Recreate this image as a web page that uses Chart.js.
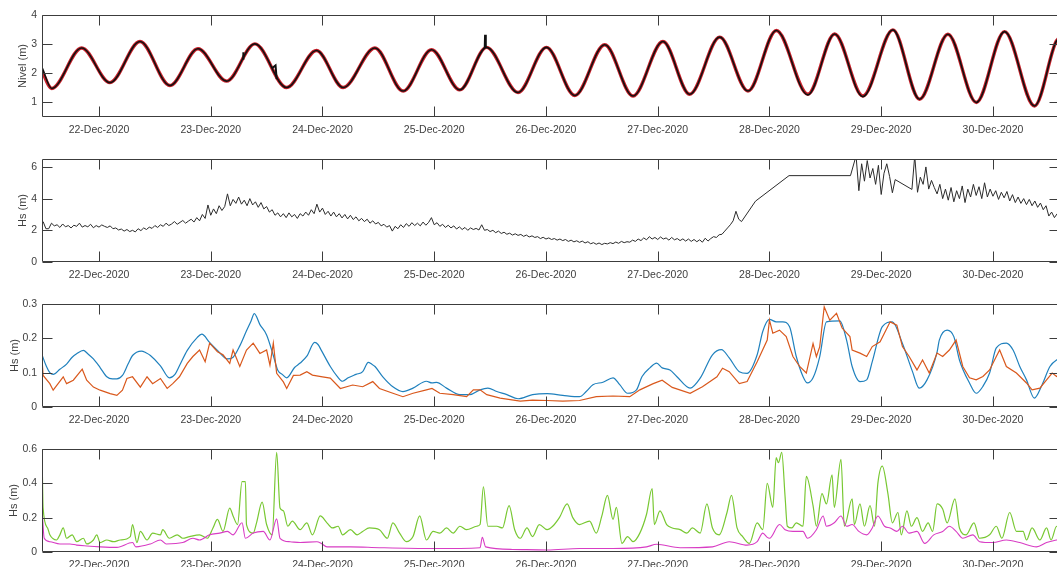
<!DOCTYPE html>
<html lang="es">
<head>
<meta charset="UTF-8">
<title>Nivel y Hs</title>
<style>
  html, body { margin: 0; padding: 0; background: #fff; overflow: hidden; }
  canvas { position: absolute; left: 0; }
</style>
</head>
<body>
<canvas id="p1" width="1062" height="145" style="top:0px"></canvas>
<canvas id="p2" width="1062" height="145" style="top:145px"></canvas>
<canvas id="p3" width="1062" height="145" style="top:290px"></canvas>
<canvas id="p4" width="1062" height="145" style="top:435px"></canvas>
<script src="https://cdn.jsdelivr.net/npm/chart.js"></script>
<script>
// time is in days of December 2020 (22.5 = 22-Dec 12:00)
const dayTicks = [22, 23, 24, 25, 26, 27, 28, 29, 30];
const xMin = 21.49, xMax = 30.6;

// panel 1: tide level, predicted (red) and observed (black)
const tideT = [21.49, 21.577, 21.845, 22.098, 22.367, 22.635, 22.886, 23.142, 23.395, 23.679, 23.947, 24.185,
  24.469, 24.722, 24.976, 25.229, 25.468, 25.750, 26.004, 26.258, 26.526, 26.779, 27.047, 27.286, 27.555,
  27.808, 28.062, 28.344, 28.583, 28.836, 29.105, 29.343, 29.597, 29.851, 30.104, 30.372, 30.56, 30.60];
const tidePred = [2.07, 1.48, 2.87, 1.68, 3.09, 1.58, 2.84, 1.73, 3.01, 1.51, 2.78, 1.51,
  2.87, 1.39, 2.81, 1.43, 2.89, 1.34, 2.89, 1.24, 2.98, 1.22, 3.09, 1.28, 3.24,
  1.39, 3.47, 1.28, 3.35, 1.22, 3.49, 1.11, 3.34, 1.00, 3.43, 0.88, 3.05, 3.25];
const obsT = [21.49, 21.577, 21.845, 22.098, 22.367, 22.635, 22.886, 23.142, 23.395, 23.679, 23.947, 24.185,
  24.469, 24.722, 24.976, 25.229, 25.468, 25.750, 26.004, 26.258, 26.526, 26.779, 27.047, 27.286, 27.555,
  27.808, 28.062, 28.344, 28.583, 28.836, 29.105, 29.343, 29.597, 29.851, 30.104, 30.372, 30.56, 30.60];
const obsNivel = [2.20, 1.48, 2.87, 1.68, 3.09, 1.58, 2.84, 1.73, 3.01, 1.51, 2.78, 1.51,
  2.87, 1.39, 2.81, 1.43, 2.89, 1.34, 2.89, 1.24, 2.98, 1.22, 3.09, 1.28, 3.24,
  1.39, 3.47, 1.26, 3.35, 1.20, 3.49, 1.11, 3.34, 1.00, 3.43, 0.88, 3.05, 3.25];
// short jumps in the observed record (null separates them)
const jumpT = [23.29, 23.292, 23.35, 23.55, 23.58, 23.59, 23.70, 25.452, 25.455, 25.46, 25.463];
const jumpNivel = [2.50, 2.72, null, 2.18, 2.27, 1.80, null, 2.86, 3.32, 3.30, 2.89];

// panel 2: offshore Hs, one value every 0.025 day from 21.5 (null = no record)
const hsStart = 21.5, hsStep = 0.025;
const hsBuoy = [
  2.55, 2.10, 2.10, 2.45, 2.28, 2.35, 2.18, 2.40, 2.22, 2.30, 2.15, 2.32, 2.25, 2.45, 2.20, 2.30, 2.22, 2.38, 2.16, 2.30,
  2.20, 2.34, 2.25, 2.18, 2.28, 2.10, 2.15, 2.02, 2.08, 1.95, 2.05, 1.92, 2.00, 1.90, 2.10, 1.98, 2.15, 2.05, 2.20, 2.12,
  2.30, 2.18, 2.35, 2.25, 2.45, 2.30, 2.40, 2.55, 2.38, 2.50, 2.62, 2.45, 2.58, 2.70, 2.52, 2.80, 2.60, 3.00, 2.75, 3.60,
  2.95, 3.35, 3.05, 3.55, 3.25, 3.50, 4.30, 3.55, 3.95, 3.70, 4.10, 3.65, 3.90, 3.55, 4.00, 3.60, 3.80, 3.45, 3.75, 3.35,
  3.50, 3.15, 3.30, 2.95, 3.10, 2.85, 3.05, 2.80, 3.10, 2.85, 3.00, 2.75, 3.05, 2.90, 3.15, 2.95, 3.30, 3.05, 3.65, 3.15,
  3.40, 3.00, 3.20, 2.90, 3.15, 2.85, 3.05, 2.78, 3.00, 2.72, 2.95, 2.68, 2.85, 2.60, 2.75, 2.55, 2.70, 2.45, 2.60, 2.40,
  2.50, 2.28, 2.38, 2.20, 2.30, 1.95, 2.25, 2.10, 2.35, 2.18, 2.42, 2.25, 2.48, 2.30, 2.45, 2.28, 2.52, 2.32, 2.50, 2.80,
  2.35, 2.48, 2.25, 2.38, 2.18, 2.32, 2.15, 2.28, 2.08, 2.22, 2.05, 2.18, 2.00, 2.15, 2.05, 2.12, 2.02, 2.35, 2.00, 2.05,
  1.92, 2.00, 1.85, 1.95, 1.80, 1.88, 1.75, 1.82, 1.70, 1.78, 1.68, 1.74, 1.62, 1.70, 1.58, 1.65, 1.55, 1.60, 1.48, 1.56,
  1.45, 1.52, 1.42, 1.48, 1.38, 1.45, 1.35, 1.42, 1.30, 1.38, 1.27, 1.34, 1.24, 1.32, 1.20, 1.28, 1.15, 1.22, 1.12, 1.20,
  1.10, 1.18, 1.14, 1.22, 1.16, 1.26, 1.18, 1.30, 1.22, 1.28, 1.25, 1.38, 1.30, 1.45, 1.35, 1.52, 1.40, 1.60, 1.45, 1.55,
  1.42, 1.58, 1.45, 1.52, 1.38, 1.55, 1.40, 1.48, 1.35, 1.46, 1.32, 1.45, 1.30, 1.42, 1.28, 1.40, 1.25, 1.50, 1.32, 1.48,
  1.60, 1.55, 1.72, 1.75, 1.95, 2.15, 2.35, 2.60, 3.20, 2.70, 2.55, null, null, null, null, 3.84, null, null, null, null,
  null, null, null, null, null, null, null, 5.45, null, null, null, null, null, null, null, null, null, null, null, null,
  null, null, null, null, null, null, null, null, null, 5.45, null, 6.70, 4.50, 6.20, 5.10, 6.40, 5.30, 5.90, 4.90, 6.10,
  4.26, 5.60, 6.20, 5.40, 4.37, 5.20, null, null, null, null, null, 4.58, 6.70, 4.40, 5.35, 4.90, 6.00, 4.60, 5.15, 4.70,
  4.30, 4.90, 4.00, 4.60, 3.90, 4.70, 3.80, 4.50, 4.00, 4.80, 3.75, 4.60, 4.10, 4.90, 4.20, 4.75, 4.00, 5.00, 4.10, 4.60,
  4.15, 4.50, 3.95, 4.40, 4.05, 4.45, 3.85, 4.25, 3.75, 4.10, 3.70, 4.00, 3.62, 3.95, 3.55, 3.85, 3.45, 3.72, 3.30, 3.55,
  2.90, 3.15, 2.80, 3.05, 3.00];

// panel 3: nearshore Hs, two points (blue and orange)
const blueT = [21.49, 21.53, 21.56, 21.59, 21.65, 21.71, 21.76, 21.80, 21.86, 21.90, 21.95, 22.01, 22.07, 22.12,
  22.16, 22.21, 22.26, 22.30, 22.38, 22.42, 22.46, 22.55, 22.63, 22.68, 22.72, 22.79, 22.88, 22.92, 22.99,
  23.06, 23.15, 23.20, 23.26, 23.32, 23.36, 23.39, 23.44, 23.50, 23.56, 23.60, 23.64, 23.68, 23.75, 23.80,
  23.86, 23.93, 23.96, 23.99, 24.07, 24.13, 24.18, 24.23, 24.30, 24.36, 24.41, 24.44, 24.47, 24.54, 24.63,
  24.72, 24.81, 24.93, 24.98, 25.02, 25.11, 25.23, 25.32, 25.41, 25.48, 25.56, 25.65, 25.75, 25.88, 26.01,
  26.15, 26.30, 26.36, 26.42, 26.51, 26.60, 26.66, 26.73, 26.81, 26.86, 26.93, 26.99, 27.04, 27.11, 27.17,
  27.29, 27.38, 27.49, 27.57, 27.64, 27.73, 27.80, 27.89, 27.94, 28.00, 28.06, 28.12, 28.18, 28.24, 28.30,
  28.34, 28.39, 28.45, 28.51, 28.63, 28.69, 28.74, 28.81, 28.87, 28.92, 29.01, 29.10, 29.19, 29.28, 29.34,
  29.41, 29.50, 29.52, 29.59, 29.65, 29.70, 29.79, 29.85, 29.91, 29.97, 30.03, 30.12, 30.18, 30.24, 30.30,
  30.37, 30.44, 30.51, 30.57, 30.60];
const hsBlue = [0.152, 0.118, 0.100, 0.095, 0.110, 0.125, 0.145, 0.155, 0.165, 0.155, 0.140, 0.115, 0.088, 0.082,
  0.082, 0.092, 0.125, 0.150, 0.163, 0.158, 0.150, 0.120, 0.085, 0.095, 0.120, 0.165, 0.203, 0.212, 0.188,
  0.165, 0.140, 0.145, 0.178, 0.222, 0.250, 0.272, 0.240, 0.210, 0.150, 0.107, 0.095, 0.085, 0.115, 0.128,
  0.148, 0.188, 0.182, 0.165, 0.118, 0.090, 0.075, 0.085, 0.095, 0.103, 0.130, 0.125, 0.118, 0.088, 0.059,
  0.045, 0.055, 0.075, 0.070, 0.072, 0.055, 0.036, 0.036, 0.050, 0.055, 0.045, 0.036, 0.024, 0.036, 0.039,
  0.034, 0.030, 0.045, 0.065, 0.072, 0.085, 0.065, 0.040, 0.050, 0.089, 0.114, 0.128, 0.114, 0.108, 0.089,
  0.055, 0.084, 0.152, 0.167, 0.143, 0.103, 0.098, 0.152, 0.220, 0.255, 0.248, 0.248, 0.234, 0.147, 0.089,
  0.070, 0.085, 0.147, 0.248, 0.251, 0.195, 0.118, 0.074, 0.079, 0.132, 0.234, 0.248, 0.185, 0.103, 0.055,
  0.079, 0.160, 0.195, 0.224, 0.205, 0.137, 0.070, 0.040, 0.060, 0.099, 0.172, 0.186, 0.166, 0.118, 0.079,
  0.026, 0.065, 0.118, 0.137, 0.140];
const orangeT = [21.49, 21.50, 21.56, 21.59, 21.68, 21.71, 21.77, 21.85, 21.89, 21.95, 22.01, 22.10, 22.16, 22.21,
  22.25, 22.30, 22.37, 22.43, 22.48, 22.55, 22.61, 22.66, 22.72, 22.79, 22.84, 22.90, 22.95, 22.99, 23.06,
  23.11, 23.17, 23.20, 23.26, 23.32, 23.38, 23.44, 23.50, 23.53, 23.56, 23.59, 23.65, 23.68, 23.74, 23.80,
  23.86, 23.91, 24.00, 24.07, 24.16, 24.27, 24.36, 24.45, 24.51, 24.63, 24.72, 24.81, 24.93, 24.98, 25.05,
  25.17, 25.29, 25.35, 25.41, 25.47, 25.59, 25.77, 25.88, 26.01, 26.15, 26.30, 26.45, 26.60, 26.75, 26.84,
  26.96, 27.04, 27.13, 27.29, 27.40, 27.53, 27.58, 27.64, 27.73, 27.80, 27.89, 27.98, 28.00, 28.03, 28.09,
  28.15, 28.21, 28.27, 28.33, 28.39, 28.42, 28.45, 28.49, 28.54, 28.60, 28.65, 28.72, 28.74, 28.81, 28.87,
  28.92, 28.99, 29.08, 29.14, 29.19, 29.25, 29.32, 29.37, 29.43, 29.50, 29.55, 29.61, 29.67, 29.73, 29.79,
  29.85, 29.91, 29.97, 30.03, 30.06, 30.12, 30.21, 30.30, 30.35, 30.42, 30.48, 30.53, 30.57, 30.60];
const hsOrange = [0.140, 0.092, 0.068, 0.049, 0.088, 0.068, 0.078, 0.110, 0.078, 0.058, 0.049, 0.039, 0.034, 0.049,
  0.083, 0.088, 0.058, 0.088, 0.068, 0.083, 0.054, 0.068, 0.088, 0.127, 0.147, 0.166, 0.132, 0.186, 0.161,
  0.152, 0.127, 0.166, 0.118, 0.166, 0.186, 0.156, 0.166, 0.122, 0.186, 0.098, 0.073, 0.054, 0.092, 0.093,
  0.103, 0.093, 0.088, 0.084, 0.054, 0.064, 0.059, 0.074, 0.054, 0.040, 0.030, 0.040, 0.050, 0.054, 0.040,
  0.036, 0.030, 0.050, 0.050, 0.036, 0.026, 0.017, 0.020, 0.019, 0.017, 0.019, 0.030, 0.032, 0.030, 0.050,
  0.068, 0.078, 0.057, 0.040, 0.059, 0.088, 0.113, 0.103, 0.068, 0.074, 0.132, 0.195, 0.253, 0.215, 0.224,
  0.205, 0.147, 0.118, 0.099, 0.185, 0.147, 0.176, 0.292, 0.253, 0.273, 0.230, 0.205, 0.166, 0.157, 0.147,
  0.176, 0.190, 0.248, 0.238, 0.176, 0.147, 0.108, 0.137, 0.099, 0.157, 0.147, 0.166, 0.195, 0.118, 0.085,
  0.079, 0.089, 0.108, 0.147, 0.166, 0.118, 0.099, 0.070, 0.050, 0.055, 0.079, 0.099, 0.089, 0.095];

// panel 4: nearshore Hs, two more points (green and magenta)
const greenT = [21.49, 21.50, 21.54, 21.56, 21.62, 21.65, 21.68, 21.71, 21.76, 21.80, 21.86, 21.89, 21.95, 21.98,
  22.01, 22.07, 22.13, 22.19, 22.28, 22.30, 22.34, 22.37, 22.43, 22.48, 22.55, 22.57, 22.63, 22.70, 22.75,
  22.81, 22.90, 22.97, 23.02, 23.06, 23.11, 23.17, 23.20, 23.24, 23.28, 23.31, 23.32, 23.38, 23.41, 23.46,
  23.50, 23.55, 23.59, 23.62, 23.65, 23.69, 23.73, 23.80, 23.86, 23.91, 23.98, 24.04, 24.09, 24.14, 24.18,
  24.25, 24.31, 24.36, 24.42, 24.51, 24.58, 24.63, 24.69, 24.75, 24.81, 24.87, 24.93, 24.99, 25.05, 25.11,
  25.17, 25.23, 25.29, 25.38, 25.41, 25.44, 25.48, 25.56, 25.61, 25.67, 25.72, 25.77, 25.83, 25.88, 25.94,
  26.01, 26.06, 26.12, 26.19, 26.24, 26.30, 26.39, 26.45, 26.50, 26.55, 26.60, 26.63, 26.68, 26.73, 26.78,
  26.84, 26.90, 26.95, 26.97, 27.02, 27.08, 27.13, 27.20, 27.26, 27.31, 27.38, 27.44, 27.49, 27.55, 27.62,
  27.66, 27.71, 27.76, 27.82, 27.89, 27.94, 27.98, 28.03, 28.06, 28.08, 28.11, 28.14, 28.16, 28.20, 28.24,
  28.30, 28.33, 28.39, 28.42, 28.47, 28.51, 28.56, 28.58, 28.64, 28.67, 28.74, 28.76, 28.81, 28.85, 28.90,
  28.94, 28.97, 29.01, 29.06, 29.10, 29.15, 29.18, 29.23, 29.27, 29.32, 29.37, 29.42, 29.46, 29.50, 29.55,
  29.59, 29.66, 29.70, 29.76, 29.83, 29.88, 29.97, 30.03, 30.08, 30.15, 30.21, 30.27, 30.30, 30.35, 30.42,
  30.48, 30.52, 30.57, 30.60];
const hsGreen = [0.60, 0.256, 0.14, 0.10, 0.07, 0.10, 0.14, 0.08, 0.10, 0.06, 0.08, 0.047, 0.07, 0.10,
  0.055, 0.07, 0.06, 0.07, 0.09, 0.16, 0.055, 0.12, 0.07, 0.11, 0.10, 0.13, 0.08, 0.10, 0.08,
  0.09, 0.10, 0.08, 0.14, 0.19, 0.12, 0.256, 0.21, 0.16, 0.41, 0.41, 0.16, 0.11, 0.17, 0.29,
  0.16, 0.10, 0.58, 0.256, 0.24, 0.15, 0.18, 0.13, 0.17, 0.10, 0.21, 0.17, 0.14, 0.15, 0.10,
  0.13, 0.10, 0.12, 0.14, 0.13, 0.08, 0.17, 0.11, 0.06, 0.09, 0.21, 0.07, 0.12, 0.11, 0.14,
  0.11, 0.15, 0.13, 0.15, 0.16, 0.38, 0.15, 0.15, 0.14, 0.27, 0.13, 0.08, 0.14, 0.09, 0.16,
  0.13, 0.15, 0.20, 0.28, 0.20, 0.16, 0.18, 0.11, 0.21, 0.33, 0.19, 0.26, 0.05, 0.09, 0.06,
  0.11, 0.22, 0.37, 0.16, 0.24, 0.16, 0.14, 0.13, 0.11, 0.14, 0.11, 0.28, 0.14, 0.10, 0.23,
  0.33, 0.14, 0.09, 0.05, 0.17, 0.13, 0.40, 0.26, 0.55, 0.52, 0.58, 0.32, 0.15, 0.14, 0.17,
  0.15, 0.44, 0.27, 0.15, 0.34, 0.28, 0.45, 0.26, 0.54, 0.15, 0.31, 0.16, 0.28, 0.15, 0.27,
  0.15, 0.40, 0.50, 0.34, 0.17, 0.23, 0.10, 0.24, 0.15, 0.20, 0.12, 0.17, 0.12, 0.28, 0.25,
  0.17, 0.31, 0.14, 0.10, 0.17, 0.08, 0.10, 0.15, 0.08, 0.23, 0.12, 0.12, 0.07, 0.14, 0.07,
  0.14, 0.07, 0.15, 0.12];
const magT = [21.49, 21.51, 21.56, 21.65, 21.74, 21.80, 21.89, 22.01, 22.16, 22.30, 22.33, 22.46, 22.55, 22.60,
  22.75, 22.84, 22.90, 22.99, 23.08, 23.15, 23.20, 23.28, 23.31, 23.38, 23.47, 23.53, 23.59, 23.62, 23.71,
  23.80, 23.95, 23.99, 24.04, 24.25, 24.51, 24.99, 25.41, 25.43, 25.46, 25.70, 26.01, 26.30, 26.60, 26.90,
  26.99, 27.20, 27.49, 27.64, 27.80, 27.89, 27.94, 27.98, 28.00, 28.09, 28.14, 28.21, 28.30, 28.34, 28.42,
  28.48, 28.51, 28.58, 28.64, 28.69, 28.74, 28.80, 28.87, 28.92, 28.97, 29.03, 29.08, 29.14, 29.19, 29.25,
  29.32, 29.39, 29.47, 29.55, 29.61, 29.67, 29.73, 29.82, 29.88, 30.00, 30.12, 30.24, 30.39, 30.48, 30.57, 30.60];
const hsMag = [0.256, 0.08, 0.06, 0.047, 0.047, 0.040, 0.035, 0.030, 0.027, 0.055, 0.030, 0.047, 0.070, 0.047,
  0.055, 0.080, 0.070, 0.100, 0.110, 0.120, 0.100, 0.170, 0.080, 0.110, 0.120, 0.070, 0.193, 0.080, 0.060,
  0.055, 0.060, 0.050, 0.030, 0.030, 0.025, 0.020, 0.025, 0.085, 0.030, 0.015, 0.012, 0.020, 0.020, 0.030,
  0.045, 0.025, 0.030, 0.060, 0.040, 0.060, 0.110, 0.085, 0.080, 0.160, 0.130, 0.120, 0.120, 0.080, 0.130,
  0.210, 0.150, 0.170, 0.210, 0.150, 0.160, 0.120, 0.100, 0.140, 0.210, 0.150, 0.140, 0.120, 0.150, 0.110,
  0.120, 0.050, 0.100, 0.120, 0.150, 0.120, 0.080, 0.100, 0.060, 0.055, 0.070, 0.055, 0.030, 0.055, 0.070, 0.075];

const yTicks1 = [1, 2, 3, 4];
const yTicks2 = [0, 2, 4, 6];
const yTicks3 = [0, 0.1, 0.2, 0.3];
const yTicks4 = [0, 0.2, 0.4, 0.6];

const FONT = "'Liberation Sans', Arial, sans-serif";
const TXT = '#404040';

function pts(t, v) {
  return t.map((x, i) => ({ x: x, y: v[i] }));
}

// MATLAB-like box with inward ticks on all four sides
const boxPlugin = {
  id: 'box',
  afterDatasetsDraw(chart) {
    const { ctx, chartArea: a, scales } = chart;
    const len = 10;
    const L = Math.round(a.left) + 0.5, R = Math.round(a.right) - 0.5;
    const T = Math.round(a.top) + 0.5, B = Math.round(a.bottom) - 0.5;
    ctx.save();
    ctx.strokeStyle = '#3c3c3c';
    ctx.lineWidth = 1;
    ctx.beginPath();
    scales.x.ticks.forEach(t => {
      const px = Math.round(scales.x.getPixelForValue(t.value)) + 0.5;
      ctx.moveTo(px, B); ctx.lineTo(px, B - len);
      ctx.moveTo(px, T); ctx.lineTo(px, T + len);
    });
    scales.y.ticks.forEach(t => {
      const py = Math.round(scales.y.getPixelForValue(t.value)) + 0.5;
      ctx.moveTo(L, py); ctx.lineTo(L + len, py);
      ctx.moveTo(R, py); ctx.lineTo(R - len, py);
    });
    ctx.rect(L, T, R - L, B - T);
    ctx.stroke();
    ctx.restore();
  }
};

function panel(id, datasets, yMin, yMax, yTicks, yTitle, titlePad, padTop) {
  new Chart(document.getElementById(id), {
    type: 'line',
    data: { datasets: datasets },
    options: {
      responsive: false,
      animation: false,
      devicePixelRatio: 1,
      layout: { padding: { top: padTop, right: 2, bottom: 0, left: 0 } },
      elements: { point: { radius: 0 } },
      plugins: { legend: { display: false }, tooltip: { enabled: false } },
      scales: {
        x: {
          type: 'linear', min: xMin, max: xMax,
          grid: { display: false, drawTicks: false },
          border: { display: false },
          afterBuildTicks: s => { s.ticks = dayTicks.map(v => ({ value: v })); },
          afterFit: s => { s.height = 28; },
          ticks: {
            autoSkip: false, maxRotation: 0, padding: 7, color: TXT,
            font: { family: FONT, size: 10.5 },
            callback: v => v + '-Dec-2020'
          }
        },
        y: {
          type: 'linear', min: yMin, max: yMax,
          grid: { display: false, drawTicks: false },
          border: { display: false },
          afterBuildTicks: s => { s.ticks = yTicks.map(v => ({ value: v })); },
          afterFit: s => { s.width = 42; },
          ticks: { padding: 5, color: TXT, font: { family: FONT, size: 10.5 }, callback: v => String(v) },
          title: {
            display: true, text: yTitle, color: TXT,
            font: { family: FONT, size: 11 },
            padding: { top: titlePad, bottom: 0 }
          }
        }
      }
    },
    plugins: [boxPlugin]
  });
}

panel('p1', [
  { data: pts(jumpT, jumpNivel), borderColor: '#111111', borderWidth: 2, spanGaps: false, tension: 0 },
  { data: pts(obsT, obsNivel), borderColor: '#111111', borderWidth: 1.6, cubicInterpolationMode: 'monotone' },
  { data: pts(tideT, tidePred), borderColor: '#c8202a', borderWidth: 3.4, cubicInterpolationMode: 'monotone' }
], 0.5, 4, yTicks1, 'Nivel (m)', 16, 15);

panel('p2', [
  { data: hsBuoy.map((v, i) => ({ x: hsStart + i * hsStep, y: v })), borderColor: '#2b2b2b', borderWidth: 1,
    tension: 0, spanGaps: true }
], 0, 6.5, yTicks2, 'Hs (m)', 16, 14);

panel('p3', [
  { data: pts(orangeT, hsOrange), borderColor: '#d9581c', borderWidth: 1.2, tension: 0 },
  { data: pts(blueT, hsBlue), borderColor: '#1f80bd', borderWidth: 1.2, cubicInterpolationMode: 'monotone' }
], 0, 0.3, yTicks3, 'Hs (m)', 8, 14);

panel('p4', [
  { data: pts(magT, hsMag), borderColor: '#d83cc4', borderWidth: 1.1, cubicInterpolationMode: 'monotone' },
  { data: pts(greenT, hsGreen), borderColor: '#78c832', borderWidth: 1.2, cubicInterpolationMode: 'monotone' }
], 0, 0.6, yTicks4, 'Hs (m)', 7, 14);
</script>
</body>
</html>
